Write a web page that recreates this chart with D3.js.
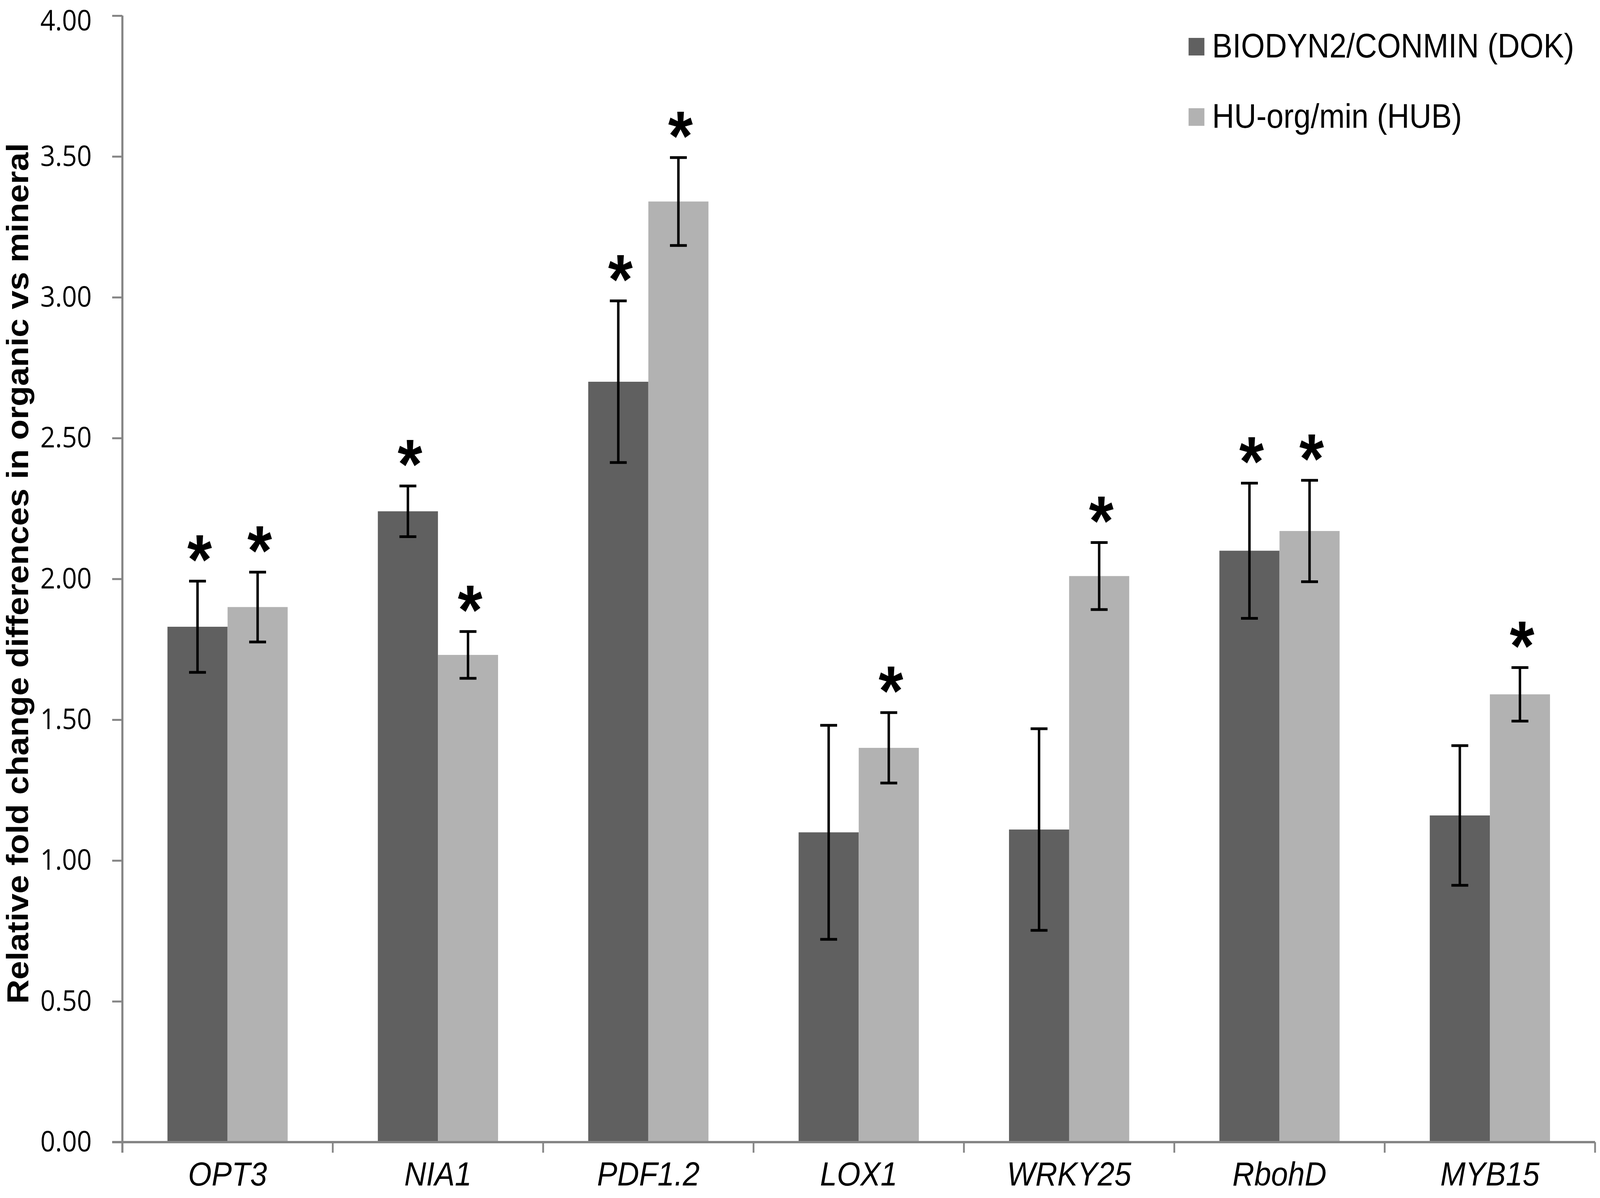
<!DOCTYPE html>
<html>
<head>
<meta charset="utf-8">
<script src="https://cdn.jsdelivr.net/npm/d3@7"></script>
<style>
  html, body { margin: 0; padding: 0; background: #ffffff; width: 100%; height: 100%; overflow: hidden; }
  svg { display: block; width: 100vw; height: 100vh; }
</style>
</head>
<body>
<svg id="chart" viewBox="0 0 4550 3066" preserveAspectRatio="none"></svg>
<script>
// ---- data ----
const categories = ["OPT3", "NIA1", "PDF1.2", "LOX1", "WRKY25", "RbohD", "MYB15"];
const seriesNames = ["BIODYN2/CONMIN (DOK)", "HU-org/min (HUB)"];
const dokValues = [1.83, 2.24, 2.70, 1.10, 1.11, 2.10, 1.16];
const dokErrors = [0.162, 0.090, 0.287, 0.380, 0.358, 0.240, 0.248];
const hubValues = [1.90, 1.73, 3.34, 1.40, 2.01, 2.17, 1.59];
const hubErrors = [0.124, 0.083, 0.156, 0.125, 0.119, 0.180, 0.095];
const dokSignificant = [true, true, true, false, false, true, false];
const hubSignificant = [true, true, true, true, true, true, true];
const yTickValues = [0, 0.5, 1, 1.5, 2, 2.5, 3, 3.5, 4];
const yTitle = "Relative fold change differences in organic vs mineral";

// ---- styling / layout ----
const colors = ["#606060", "#b2b2b2"];
const axisColor = "#858585";
const svg = d3.select("#chart");

const x = d3.scaleBand().domain(categories).range([348, 4536]).padding(0);
const xInner = d3.scaleBand().domain([0, 1]).range([0, x.bandwidth()]).paddingInner(0).paddingOuter(0.75);
const y = d3.scaleLinear().domain([0, 4]).range([2923, 40]);

const series = [
  { values: dokValues, errors: dokErrors, sig: dokSignificant },
  { values: hubValues, errors: hubErrors, sig: hubSignificant }
];
const points = [];
series.forEach((s, si) => {
  categories.forEach((c, ci) => {
    points.push({ cat: c, si: si, v: s.values[ci], e: s.errors[ci], sig: s.sig[ci] });
  });
});

// bars
svg.append("g").selectAll("rect").data(points).join("rect")
  .attr("x", d => x(d.cat) + xInner(d.si))
  .attr("width", xInner.bandwidth())
  .attr("y", d => y(d.v))
  .attr("height", d => y(0) - y(d.v))
  .attr("fill", d => colors[d.si]);

// y axis
const yAxis = svg.append("g")
  .attr("transform", "translate(348,0)")
  .call(d3.axisLeft(y).tickValues(yTickValues).tickFormat(d3.format(".2f")).tickSize(29).tickPadding(58));
yAxis.select(".domain").attr("stroke", axisColor).attr("stroke-width", 6)
  .attr("d", `M0,${y(4)}V${y(0) + 27}`);
yAxis.selectAll(".tick line").attr("stroke", axisColor).attr("stroke-width", 5);
yAxis.selectAll(".tick text")
  .attr("font-family", "'Open Sans', sans-serif").attr("font-size", 74).attr("fill", "#000")
  .attr("dy", d => d === 4 ? "0.5em" : "0.32em");

// x axis
const xAxis = svg.append("g")
  .attr("transform", `translate(0,${y(0)})`)
  .call(d3.axisBottom(x).tickSize(0).tickPadding(72));
xAxis.select(".domain").attr("stroke", axisColor).attr("stroke-width", 6)
  .attr("d", `M${x.range()[0] - 29},0H${x.range()[1]}`);
xAxis.selectAll(".tick text")
  .attr("font-family", "'Liberation Sans', Arial, sans-serif").attr("font-size", 86)
  .attr("font-style", "italic").attr("fill", "#000").attr("dy", "0.45em");
const boundaries = categories.map(c => x(c)).concat([x.range()[1]]);
xAxis.append("g").selectAll("line").data(boundaries).join("line")
  .attr("x1", d => d).attr("x2", d => d).attr("y1", 0).attr("y2", 27)
  .attr("stroke", axisColor).attr("stroke-width", 5);

// error bars
const capHalf = 24;
const err = svg.append("g").attr("stroke", "#000").attr("stroke-width", 7).attr("fill", "none");
err.selectAll("path").data(points).join("path")
  .attr("d", d => {
    const cx = x(d.cat) + xInner(d.si) + xInner.bandwidth() / 2;
    const t = y(d.v + d.e), b = y(d.v - d.e);
    return `M${cx},${t}V${b}M${cx - capHalf},${t}H${cx + capHalf}M${cx - capHalf},${b}H${cx + capHalf}`;
  });

// significance asterisks
const starSize = 180;
svg.append("g").selectAll("text").data(points.filter(d => d.sig)).join("text")
  .attr("x", d => x(d.cat) + xInner(d.si) + xInner.bandwidth() / 2 + 6)
  .attr("y", d => y(d.v + d.e) - 98 + 0.58 * starSize)
  .attr("text-anchor", "middle")
  .attr("font-family", "'Liberation Sans', Arial, sans-serif")
  .attr("font-weight", "bold")
  .attr("font-size", starSize)
  .attr("fill", "#000")
  .text("*");

// y title
svg.append("text")
  .attr("transform", `translate(80,${(348 + 2587) / 2}) rotate(-90)`)
  .attr("text-anchor", "middle")
  .attr("font-family", "'Liberation Sans', Arial, sans-serif")
  .attr("font-weight", "bold")
  .attr("font-size", 86)
  .attr("fill", "#000")
  .text(yTitle);

// legend
const legend = svg.append("g").selectAll("g").data(seriesNames).join("g")
  .attr("transform", (d, i) => `translate(3380,${97 + i * 180})`);
legend.append("rect").attr("width", 45).attr("height", 45).attr("fill", (d, i) => colors[i]);
legend.append("text")
  .attr("x", 67).attr("y", 50)
  .attr("font-family", "'Liberation Sans', Arial, sans-serif")
  .attr("font-size", 87).attr("fill", "#000")
  .text(d => d);
</script>
</body>
</html>
